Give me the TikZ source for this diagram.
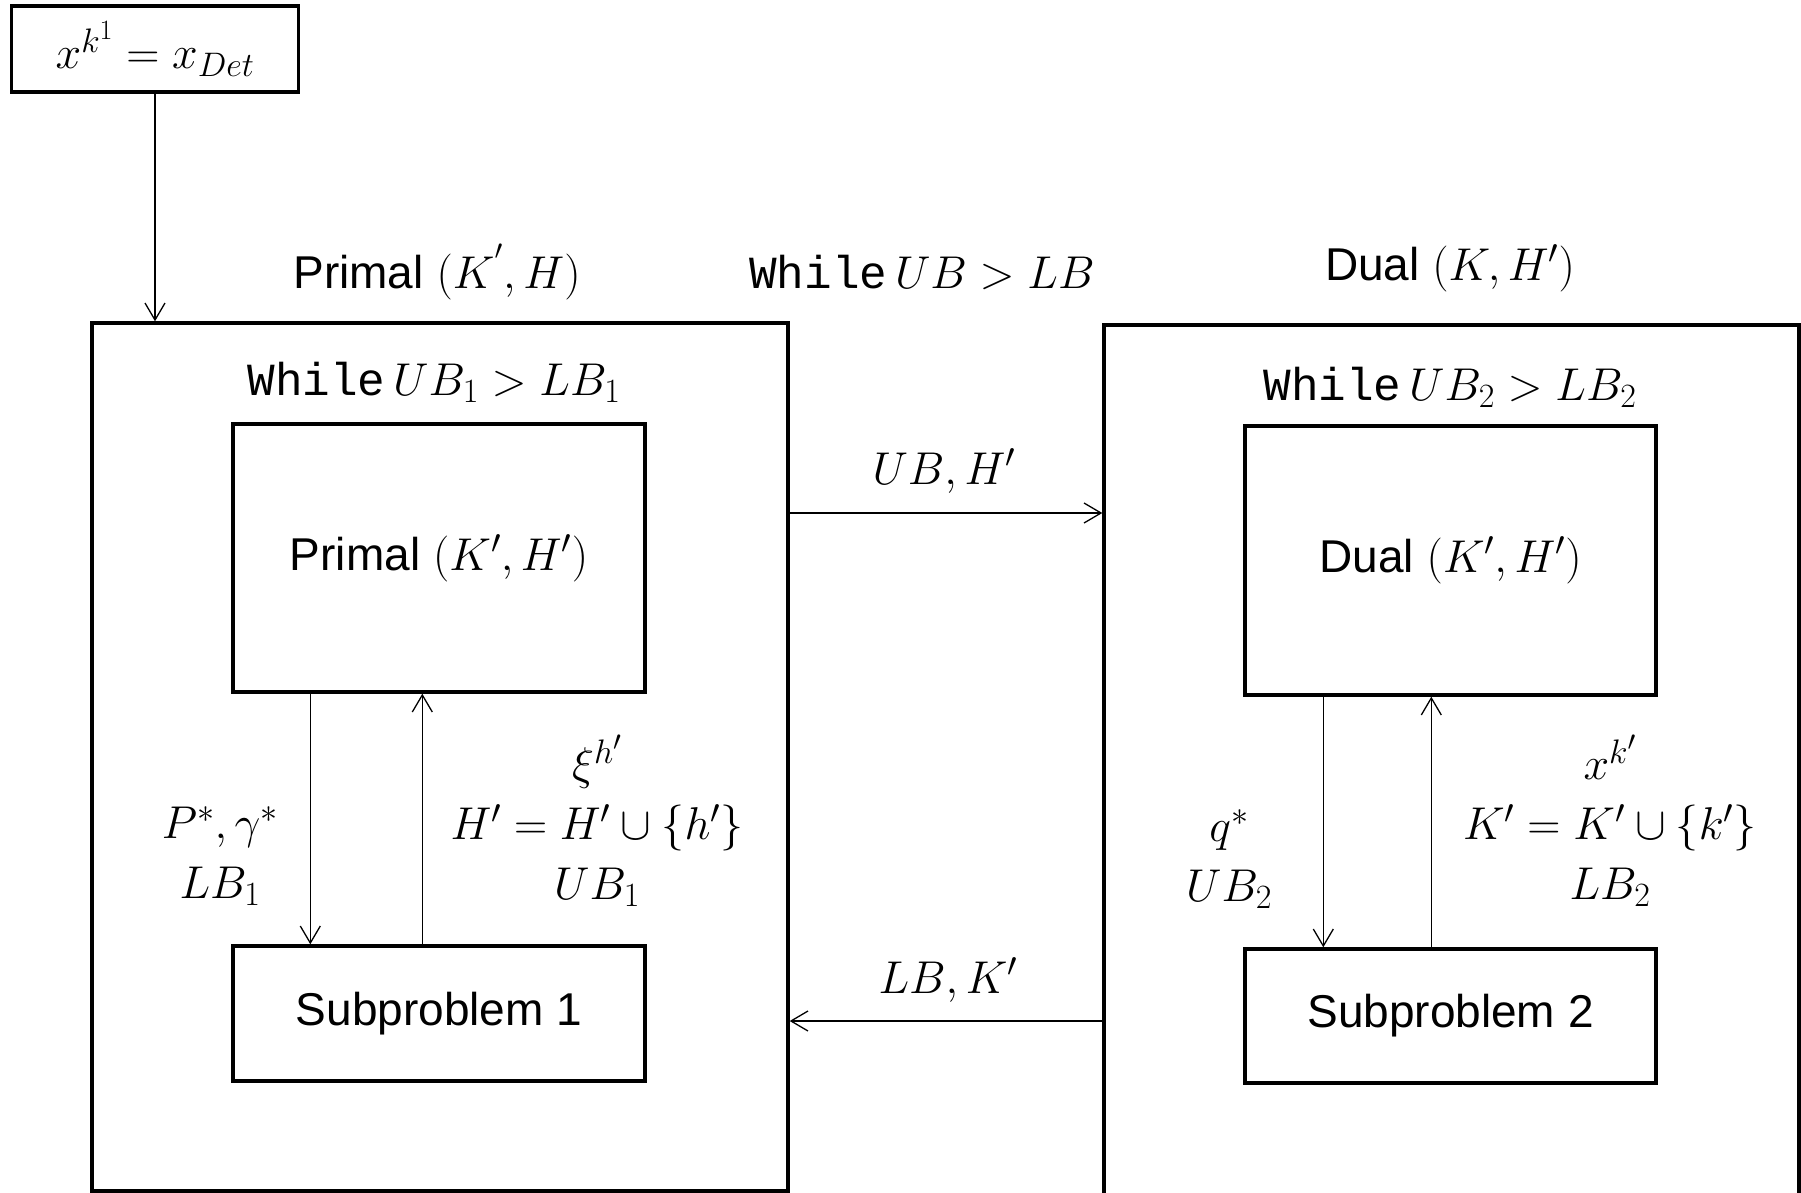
\RequirePackage{fix-cm}
\documentclass[tikz,border=0pt]{standalone}
\usepackage{fontspec}
\setmainfont{Liberation Sans}
\setmonofont{Liberation Mono}
\usetikzlibrary{arrows.meta}
\DeclareMathSizes{46}{46}{34}{28}

\tikzset{
  frame/.style={draw, line width=3.4pt, inner sep=0pt},
  blockbox/.style={draw, line width=3.4pt, inner sep=0pt, minimum width=412pt},
  flow/.style={line width=1.3pt, -{Straight Barb[length=17pt,width=20pt,line width=1.3pt]}},
  lbl/.style={inner sep=0pt, align=center},
}

\begin{document}
\begin{tikzpicture}[x=1pt, y=-1pt, font=\fontsize{46}{60}\selectfont]
\useasboundingbox (0,0) rectangle (1801,1193);
\clip (0,0) rectangle (1801,1193);

% start value
\node[frame, minimum width=287pt, minimum height=86pt] (init) at (155,49) {$x^{k^1}=x_{Det}$};

% outer loops
\node[frame, minimum width=696pt, minimum height=868pt] (primal) at (440,757) {};
\node[frame, minimum width=695pt, minimum height=905pt] (dual) at (1451.5,777.5) {};

% titles
\node[lbl] (ptitle) at (437,272) {Primal $(K^{'},H)$};
\node[lbl] (wtitle) at (922,272) {\texttt{While}$\,UB>LB$};
\node[lbl] (dtitle) at (1450,268) {Dual $(K,H')$};
\node[lbl] (pwhile) at (434,382) {\texttt{While}$\,UB_1>LB_1$};
\node[lbl] (dwhile) at (1450,387) {\texttt{While}$\,UB_2>LB_2$};

% inner problems
\node[blockbox, minimum height=268pt] (pin) at (439,558) {Primal $(K',H')$};
\node[blockbox, minimum height=135pt] (sub1) at (439,1013.5) {Subproblem 1};
\node[blockbox, minimum height=269pt, minimum width=411pt] (din) at (1450.5,560.5) {Dual $(K',H')$};
\node[blockbox, minimum height=134pt, minimum width=411pt] (sub2) at (1450.5,1016) {Subproblem 2};

% start arrow
\draw[flow] (init.south) -- (init.south |- primal.north);

% inner exchanges, primal side
\draw[flow] ([xshift=79pt]pin.south west) -- ([xshift=79pt]sub1.north west);
\draw[flow] ([xshift=191pt]sub1.north west) -- ([xshift=191pt]pin.south west);
\node[lbl] (plabl) at (220,856) {$P^*,\gamma^*$\\$LB_1$};
\node[lbl] (plabr) at (597,821) {$\xi^{h'}$\\$H'=H'\cup\{h'\}$\\$UB_1$};

% inner exchanges, dual side
\draw[flow] ([xshift=80pt]din.south west) -- ([xshift=80pt]sub2.north west);
\draw[flow] ([xshift=188pt]sub2.north west) -- ([xshift=188pt]din.south west);
\node[lbl] (dlabl) at (1229,859) {$q^*$\\$UB_2$};
\node[lbl] (dlabr) at (1610,821) {$x^{k'}$\\$K'=K'\cup\{k'\}$\\$LB_2$};

% exchanges between the loops
\coordinate (uby) at (0,513);
\coordinate (lby) at (0,1021);
\draw[flow] (primal.east |- uby) -- (dual.west |- uby);
\draw[flow] (dual.west |- lby) -- (primal.east |- lby);
\node[lbl] (ublab) at (944,471) {$UB,H'$};
\node[lbl] (lblab) at (948,980) {$LB,K'$};
\end{tikzpicture}
\end{document}
